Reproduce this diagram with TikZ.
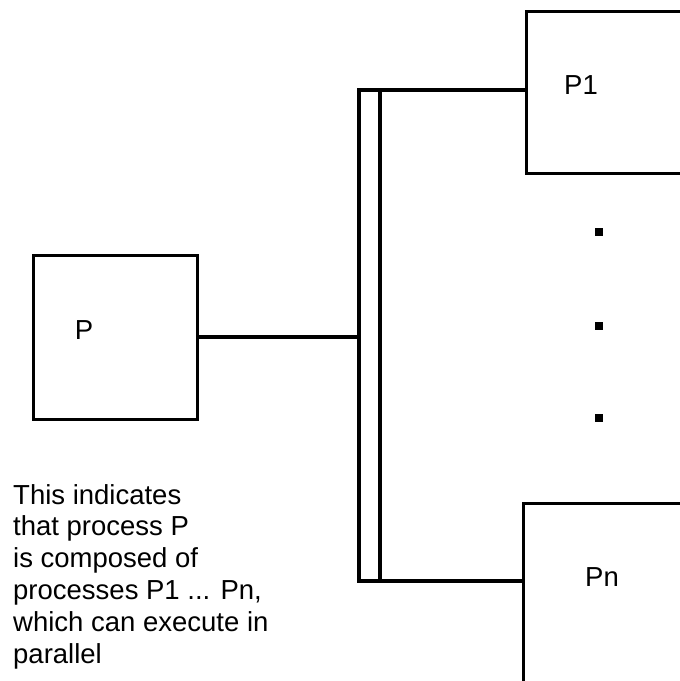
\documentclass[tikz,border=0pt]{standalone}
\usepackage{fontspec}
\setmainfont{Liberation Sans}
\begin{document}
\begin{tikzpicture}[x=1pt,y=-1pt,
  box/.style={draw=black,line width=2.5pt,rectangle,inner sep=0pt,anchor=north west},
  lbl/.style={inner sep=0pt,font=\fontsize{27.5}{31.8}\selectfont},
  link/.style={line width=4.5pt,line cap=rect},
  dot/.style={fill=black,minimum size=8pt,inner sep=0pt,rectangle}]
\useasboundingbox (0,0) rectangle (680,681);
\clip (0,0) rectangle (680,681);
% boxes
\node[box,minimum width=164pt,minimum height=164pt] (P) at (32,254) {};
\node[box,minimum width=200pt,minimum height=162pt] (P1box) at (525,10) {};
\node[box,minimum width=200pt,minimum height=200pt] (Pnbox) at (522,502) {};
% labels
\node[lbl] (Plbl) at (84,330) {P};
\node[lbl] (P1) at (581,85) {P1};
\node[lbl] (Pn) at (602,577) {Pn};
% bar
\coordinate (bt) at (359,90);
\coordinate (bb) at (359,581);
\coordinate (it) at (380,90);
\coordinate (ib) at (380,581);
\draw[link] (P1box.west |- bt) -- (bt) -- (bb) -- (Pnbox.west |- bb);
\draw[line width=4pt] (it) -- (ib);
\draw[line width=4pt] (P.east) -- (P.east -| bt);
% dots
\node[dot] (d1) at (599,232) {};
\node[dot] (d2) at (599,326) {};
\node[dot] (d3) at (599,418) {};
% caption
\node[lbl,anchor=north west,align=left] (cap) at (13,484)
  {This indicates\\that process P\\is composed of\\processes P1 ... Pn,\\which can execute in\\parallel};
\end{tikzpicture}
\end{document}
